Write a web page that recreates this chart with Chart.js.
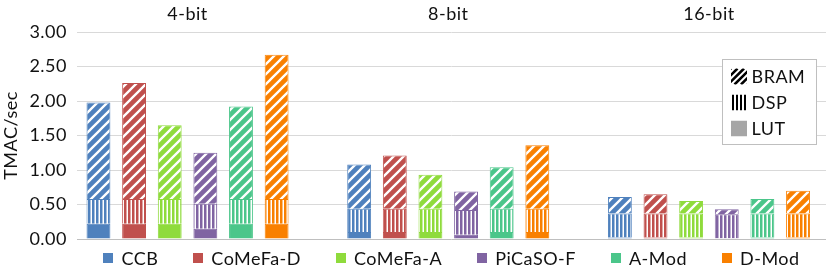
<!DOCTYPE html>
<html>
<head>
<meta charset="utf-8">
<script src="https://cdn.jsdelivr.net/npm/chart.js"></script>
<style>
  html, body { margin: 0; padding: 0; background: #fff; }
  #wrap { width: 831px; height: 266px; }
</style>
</head>
<body>
<div id="wrap"><canvas id="chart"></canvas></div>
<script>
const groups = ['4-bit', '8-bit', '16-bit'];
const series = ['CCB', 'CoMeFa-D', 'CoMeFa-A', 'PiCaSO-F', 'A-Mod', 'D-Mod'];
const parts = ['LUT', 'DSP', 'BRAM'];
const colors = ['#4f81bd', '#c0504d', '#8fdb3c', '#8064a2', '#4bc68a', '#f98000'];

// TMAC/sec contributed by each resource, one row per design, one value per precision
const lutValues = [
  [0.22, 0.10, 0.02],
  [0.22, 0.10, 0.02],
  [0.22, 0.10, 0.02],
  [0.15, 0.06, 0.01],
  [0.22, 0.10, 0.02],
  [0.22, 0.10, 0.02]
];
const dspValues = [
  [0.36, 0.34, 0.35],
  [0.36, 0.34, 0.35],
  [0.36, 0.34, 0.35],
  [0.36, 0.36, 0.35],
  [0.36, 0.34, 0.35],
  [0.36, 0.34, 0.35]
];
const bramValues = [
  [1.40, 0.64, 0.24],
  [1.68, 0.77, 0.28],
  [1.07, 0.49, 0.18],
  [0.74, 0.27, 0.07],
  [1.34, 0.60, 0.21],
  [2.09, 0.92, 0.33]
];
const yTicks = [0, 0.5, 1, 1.5, 2, 2.5, 3];

const FONT = 'Lato';
const TEXT = '#111';

function fill(color, part) {
  if (part === 'LUT') return color;
  const c = document.createElement('canvas');
  const g = c.getContext('2d');
  if (part === 'BRAM') {
    c.width = c.height = 10;
    g.fillStyle = color;
    g.fillRect(0, 0, 10, 10);
    g.strokeStyle = '#fff';
    g.lineWidth = 2.3;
    g.beginPath();
    g.moveTo(-1, 11); g.lineTo(11, -1);
    g.moveTo(-1, 1); g.lineTo(1, -1);
    g.moveTo(9, 11); g.lineTo(11, 9);
    g.stroke();
  } else {
    c.width = 4; c.height = 4;
    g.fillStyle = color;
    g.fillRect(0, 0, 4, 4);
    g.fillStyle = '#fff';
    g.fillRect(2.5, 0, 1.5, 4);
  }
  return g.createPattern(c, 'repeat');
}

const partValues = { LUT: lutValues, DSP: dspValues, BRAM: bramValues };
const datasets = [];
series.forEach((name, s) => {
  parts.forEach(part => {
    datasets.push({
      label: name + ' ' + part,
      stack: name,
      data: groups.map((g, i) => ({ x: i, y: partValues[part][s][i] })),
      backgroundColor: fill(colors[s], part),
      borderColor: colors[s],
      borderWidth: 1,
      categoryPercentage: 0.82,
      barPercentage: 0.67
    });
  });
});

const spacing = {
  id: 'spacing',
  beforeUpdate(chart) { chart.ctx.letterSpacing = '0.5px'; },
  beforeDraw(chart) { chart.ctx.letterSpacing = '0.5px'; }
};

const legends = {
  id: 'legends',
  afterDraw(chart) {
    const ctx = chart.ctx;
    const area = chart.chartArea;
    ctx.save();
    ctx.letterSpacing = '0.5px';
    ctx.font = '18px ' + FONT;
    ctx.textBaseline = 'middle';

    // series legend under the plot
    const gap = 35;
    const widths = series.map(s => 18 + ctx.measureText(s).width);
    const total = widths.reduce((a, b) => a + b, 0) + gap * (series.length - 1);
    let x = (area.left + area.right) / 2 - total / 2;
    const y = area.bottom + 19;
    series.forEach((s, i) => {
      ctx.fillStyle = colors[i];
      ctx.fillRect(Math.round(x), y - 5, 10, 10);
      ctx.fillStyle = TEXT;
      ctx.fillText(s, x + 18, y + 1);
      x += widths[i] + gap;
    });

    // resource legend box
    const names = ['BRAM', 'DSP', 'LUT'];
    const w = Math.round(27 + Math.max(...names.map(n => ctx.measureText(n).width)) + 13);
    const bx = Math.round(area.right - 10 - w) + 0.5;
    const by = area.top + 27.5;
    const h = 85;
    ctx.fillStyle = '#fff';
    ctx.fillRect(bx, by, w, h);
    ctx.strokeStyle = '#bfbfbf';
    ctx.lineWidth = 1;
    ctx.strokeRect(bx, by, w, h);
    names.forEach((n, r) => {
      const cy = by + 17 + r * 26;
      const ix = bx + 8.5;
      ctx.save();
      ctx.beginPath();
      ctx.rect(ix, cy - 8, 16, 16);
      ctx.clip();
      if (n === 'BRAM') {
        ctx.strokeStyle = '#000';
        ctx.lineWidth = 2.6;
        ctx.beginPath();
        for (let k = -16; k <= 32; k += 6.5) {
          ctx.moveTo(ix + k, cy + 8);
          ctx.lineTo(ix + k + 16, cy - 8);
        }
        ctx.stroke();
      } else if (n === 'DSP') {
        ctx.fillStyle = '#000';
        for (let k = 0; k < 4; k++) ctx.fillRect(ix + 1 + k * 4, cy - 8, 2, 16);
      } else {
        ctx.fillStyle = '#a6a6a6';
        ctx.fillRect(ix, cy - 8, 16, 16);
      }
      ctx.restore();
      ctx.fillStyle = TEXT;
      ctx.fillText(n, bx + 29, cy + 1);
    });
    ctx.restore();
  }
};

new Chart(document.querySelector('#chart').getContext('2d'), {
  type: 'bar',
  data: { datasets },
  options: {
    responsive: true,
    maintainAspectRatio: false,
    animation: false,
    layout: { padding: { top: 0, right: 5, bottom: 27, left: 0 } },
    plugins: {
      legend: { display: false },
      tooltip: { enabled: false }
    },
    scales: {
      x: {
        type: 'linear',
        position: 'top',
        stacked: true,
        offset: false,
        min: -0.424,
        max: 2.449,
        grid: { display: false, offset: false },
        border: { display: false },
        afterBuildTicks: s => { s.ticks = groups.map((g, i) => ({ value: i })); },
        afterFit: s => { s.height = 32; },
        ticks: {
          padding: -1,
          color: TEXT,
          font: { family: FONT, size: 18 },
          callback: v => groups[v]
        }
      },
      y: {
        stacked: true,
        min: 0,
        max: 3,
        afterFit: s => { s.width = 77; },
        ticks: {
          stepSize: 0.25,
          padding: 10,
          color: TEXT,
          font: { family: FONT, size: 18 },
          callback: v => yTicks.includes(v) ? v.toFixed(2) : ''
        },
        grid: {
          drawTicks: false,
          color: c => c.tick && c.tick.value === 0 ? '#bfbfbf'
            : (c.tick && yTicks.includes(c.tick.value) ? '#d9d9d9' : '#e6d6d6')
        },
        border: {
          display: false,
          dash: c => c.tick && !yTicks.includes(c.tick.value) ? [4, 3] : []
        },
        title: {
          display: true,
          text: 'TMAC/sec',
          padding: 0,
          color: TEXT,
          font: { family: FONT, size: 18 }
        }
      }
    }
  },
  plugins: [spacing, legends]
});
</script>
</body>
</html>
